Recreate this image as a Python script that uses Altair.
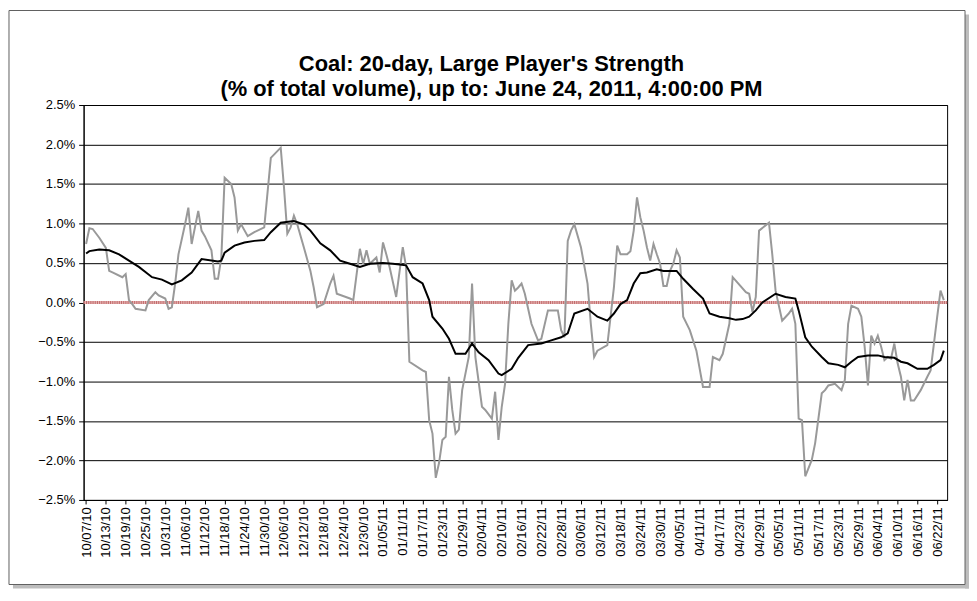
import altair as alt
import pandas as pd

title_lines = ["Coal: 20-day, Large Player's Strength",
               "(% of total volume), up to: June 24, 2011, 4:00:00 PM"]

start_date = "2010-10-07"

# daily large-player strength (gray) : day offset from start_date, % of volume
gray_day = [0, 1, 2, 4, 6, 7, 8, 11, 12, 13, 14, 15, 18, 19, 21, 22, 24, 25, 26, 27,
            28, 30, 31, 32, 34, 35, 36, 38, 39, 40, 41, 42, 44, 45, 46, 47, 49, 51, 54, 56,
            59, 60, 61, 62, 63, 64, 66, 68, 69, 70, 72, 74, 75, 76, 80, 81, 83, 84, 85, 86,
            88, 89, 90, 91, 92, 94, 96, 97, 98, 102, 103, 104, 105, 106, 107, 108, 109, 110, 111, 112,
            113, 114, 116, 117, 118, 120, 121, 123, 124, 125, 126, 127, 128, 129, 130, 131, 132, 133, 135, 137,
            138, 140, 143, 144, 145, 146, 147, 148, 150, 152, 153, 154, 155, 158, 160, 161, 162, 164, 165, 166,
            167, 168, 169, 170, 171, 172, 173, 174, 175, 176, 177, 178, 179, 180, 181, 183, 185, 187, 189, 190,
            192, 193, 195, 196, 200, 201, 202, 203, 204, 207, 208, 209, 211, 213, 214, 215, 216, 217, 218, 220,
            221, 223, 224, 225, 227, 229, 230, 231, 232, 234, 235, 236, 237, 238, 239, 240, 241, 242, 243, 244,
            245, 246, 247, 248, 249, 250, 251, 253, 255, 256, 257, 258, 259, 260]
gray_pct = [0.74, 0.94, 0.93, 0.82, 0.69, 0.40, 0.38, 0.32, 0.36, 0.03, -0.02, -0.08, -0.10, 0.03, 0.13, 0.09, 0.05, -0.08, -0.06, 0.24,
            0.61, 0.99, 1.20, 0.74, 1.16, 0.91, 0.84, 0.66, 0.30, 0.30, 0.57, 1.58, 1.50, 1.33, 0.91, 0.99, 0.84, 0.89, 0.95, 1.83,
            1.96, 1.45, 0.87, 0.95, 1.10, 0.99, 0.70, 0.40, 0.19, -0.06, -0.02, 0.24, 0.34, 0.11, 0.05, 0.03, 0.68, 0.49, 0.66, 0.49,
            0.57, 0.38, 0.76, 0.61, 0.45, 0.07, 0.70, 0.45, -0.75, -0.86, -0.88, -1.49, -1.66, -2.22, -2.03, -1.74, -1.70, -0.94, -1.36, -1.66,
            -1.61, -1.11, -0.69, 0.24, -0.69, -1.32, -1.36, -1.47, -1.13, -1.74, -1.32, -1.03, -0.27, 0.28, 0.15, 0.19, 0.24, 0.11, -0.27, -0.48,
            -0.46, -0.10, -0.10, -0.35, -0.44, 0.78, 0.91, 0.99, 0.70, 0.24, -0.27, -0.69, -0.61, -0.54, 0.19, 0.72, 0.61, 0.61, 0.65, 0.91,
            1.33, 1.08, 0.91, 0.70, 0.53, 0.74, 0.61, 0.49, 0.21, 0.21, 0.40, 0.49, 0.66, 0.57, -0.18, -0.35, -0.61, -1.07, -1.07, -0.69,
            -0.73, -0.65, -0.27, 0.32, 0.13, 0.11, -0.12, 0.07, 0.91, 1.01, 0.61, 0.15, -0.23, -0.14, -0.08, -0.27, -1.47, -1.49, -2.20, -1.99,
            -1.78, -1.15, -1.11, -1.05, -1.03, -1.11, -0.98, -0.27, -0.04, -0.08, -0.18, -0.56, -1.05, -0.42, -0.52, -0.42, -0.56, -0.73, -0.69, -0.71,
            -0.52, -0.77, -0.94, -1.24, -0.98, -1.24, -1.24, -1.11, -0.94, -0.86, -0.52, -0.18, 0.15, 0.03]

# 20-day average (black)
ma_day = [0, 1, 4, 7, 10, 13, 16, 20, 23, 26, 29, 32, 35, 40, 41, 42, 45, 48, 51, 54,
          56, 59, 63, 66, 68, 71, 74, 77, 80, 83, 86, 90, 93, 97, 99, 102, 104, 105, 108, 110,
          112, 115, 117, 119, 122, 125, 126, 129, 131, 134, 138, 141, 144, 146, 148, 152, 155, 158, 160, 162,
          164, 166, 168, 170, 173, 175, 179, 181, 184, 187, 189, 192, 195, 197, 199, 201, 203, 205, 209, 212,
          215, 216, 218, 220, 223, 225, 228, 230, 232, 234, 237, 240, 242, 245, 247, 249, 252, 255, 257, 259,
          260]
ma_pct = [0.62, 0.65, 0.67, 0.66, 0.61, 0.53, 0.45, 0.32, 0.29, 0.23, 0.28, 0.38, 0.55, 0.52, 0.53, 0.63, 0.72, 0.76, 0.78, 0.79,
          0.89, 1.01, 1.03, 0.99, 0.91, 0.75, 0.66, 0.53, 0.49, 0.45, 0.49, 0.50, 0.49, 0.47, 0.32, 0.24, 0.03, -0.18, -0.33, -0.46,
          -0.65, -0.65, -0.52, -0.63, -0.73, -0.90, -0.92, -0.84, -0.70, -0.54, -0.52, -0.48, -0.44, -0.39, -0.14, -0.08, -0.18, -0.23, -0.14, -0.02,
          0.03, 0.24, 0.37, 0.38, 0.42, 0.40, 0.40, 0.30, 0.17, 0.05, -0.14, -0.18, -0.20, -0.22, -0.21, -0.18, -0.10, 0.00, 0.11, 0.07,
          0.05, -0.10, -0.44, -0.56, -0.69, -0.77, -0.79, -0.82, -0.75, -0.69, -0.67, -0.67, -0.69, -0.70, -0.75, -0.77, -0.84, -0.84, -0.79, -0.73,
          -0.61]

y_ticks = [-2.5, -2.0, -1.5, -1.0, -0.5, 0.0, 0.5, 1.0, 1.5, 2.0, 2.5]
x_tick_first = "2010-10-07"
x_tick_last = "2011-06-22"
x_tick_every_days = 6

W, H = 868, 397
FONT = "Liberation Sans"

base = pd.Timestamp(start_date)


def frame_of(days, vals):
    return pd.DataFrame({
        "date": [(base + pd.Timedelta(days=int(d))).strftime("%Y-%m-%d") for d in days],
        "pct": vals,
        "i": list(range(len(days))),
    })


gray_df = frame_of(gray_day, gray_pct)
ma_df = frame_of(ma_day, ma_pct)
zero_df = pd.DataFrame({"date": [start_date], "pct": [0.0]})

tick_dates = pd.date_range(x_tick_first, x_tick_last, freq=f"{x_tick_every_days}D")
x_values = [alt.DateTime(year=int(t.year), month=int(t.month), date=int(t.day), utc=True) for t in tick_dates]

x_scale = alt.Scale(type="utc", domain=[alt.DateTime(year=2010, month=10, date=6, hours=6, utc=True),
                                        alt.DateTime(year=2011, month=6, date=25, utc=True)])
y_scale = alt.Scale(domain=[-2.5, 2.5], nice=False, zero=False)

x_axis = alt.Axis(values=x_values, labelExpr="utcFormat(datum.value, '%m/%d/%y')", labelAngle=270,
                  labelFont=FONT, labelFontSize=13, labelColor="#000", labelPadding=3,
                  tickColor="#000", tickSize=4, domainColor="#000", grid=False, title=None,
                  labelOverlap=False, labelBound=False, labelFlush=False)
y_axis = alt.Axis(values=y_ticks, labelExpr="format(datum.value, '.1f') + '%'",
                  labelFont=FONT, labelFontSize=13, labelColor="#000", labelPadding=4,
                  labelOverlap=False, labelBound=False, labelFlush=False,
                  tickColor="#000", tickSize=5, domainColor="#000",
                  grid=True, gridColor="#000", gridWidth=1, title=None)

X = alt.X("date:T", scale=x_scale, axis=x_axis)
Y = alt.Y("pct:Q", scale=y_scale, axis=y_axis)

one = pd.DataFrame({"k": [0]})

# chart-area frame with a drop shadow on the right and bottom
shadow_r = alt.Chart(one).mark_rect(fill="#bdbdbd").encode(
    x=alt.value(W + 18), x2=alt.value(W + 22), y=alt.value(-91), y2=alt.value(H + 89))
shadow_b = alt.Chart(one).mark_rect(fill="#bdbdbd").encode(
    x=alt.value(-71), x2=alt.value(W + 22), y=alt.value(H + 85), y2=alt.value(H + 89))
frame = alt.Chart(one).mark_rect(fillOpacity=0, stroke="#606060", strokeWidth=1).encode(
    x=alt.value(-75), x2=alt.value(W + 18), y=alt.value(-95), y2=alt.value(H + 85))

title_df = pd.DataFrame({"line": title_lines})
title1 = alt.Chart(title_df.iloc[[0]]).mark_text(font=FONT, fontSize=22, fontWeight="bold", color="#000",
                                                 align="center", baseline="middle").encode(
    text="line:N", x=alt.value(410), y=alt.value(-41))
title2 = alt.Chart(title_df.iloc[[1]]).mark_text(font=FONT, fontSize=22, fontWeight="bold", color="#000",
                                                 align="center", baseline="middle").encode(
    text="line:N", x=alt.value(410), y=alt.value(-16))

gray_line = alt.Chart(gray_df).mark_line(color="#999999", strokeWidth=2).encode(x=X, y=Y, order="i:Q")

zero_band = alt.Chart(zero_df).mark_rule(color="#e6b3b3", strokeWidth=3).encode(y=Y)
zero_dots = alt.Chart(zero_df).mark_rule(color="#c06a6a", strokeWidth=3, strokeDash=[1, 1.2]).encode(y=Y)

ma_line = alt.Chart(ma_df).mark_line(color="#000000", strokeWidth=2).encode(x=X, y=Y, order="i:Q")

chart = alt.layer(shadow_r, shadow_b, frame, zero_band, zero_dots, gray_line, ma_line, title1, title2).properties(
    width=W, height=H, padding=0,
).configure(background="white").configure_view(stroke="#000", strokeWidth=1)

chart.save("out.html", embed_options={"renderer": "svg", "actions": False})
